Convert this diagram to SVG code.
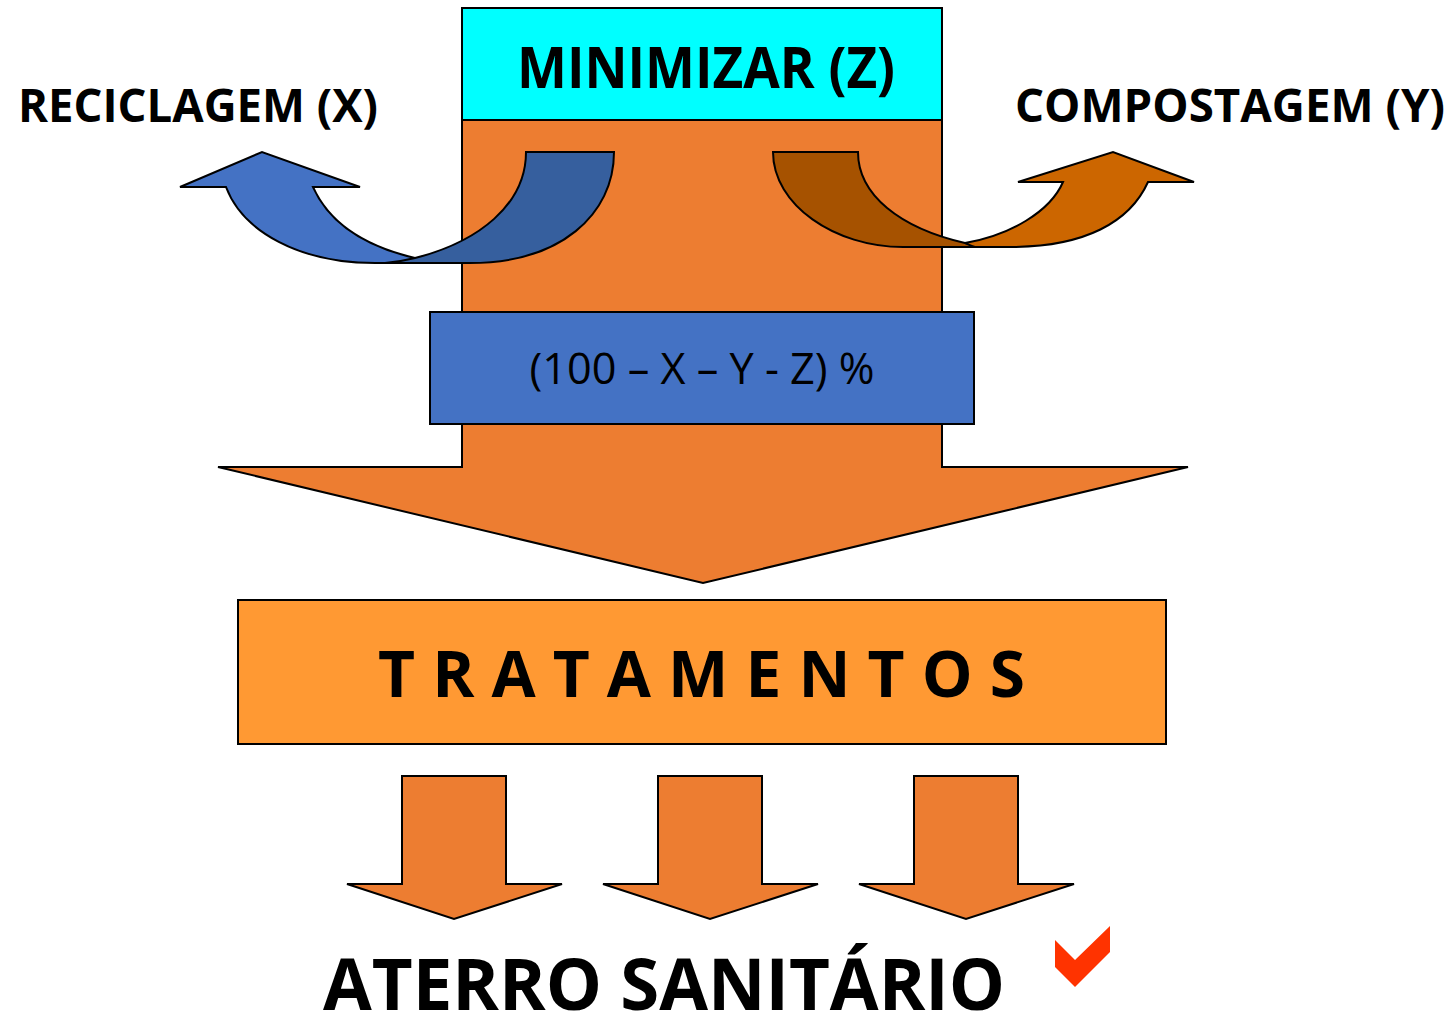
<svg xmlns="http://www.w3.org/2000/svg" width="1452" height="1017" viewBox="0 0 1452 1017">
<style>
.s{stroke:#000;stroke-width:2;stroke-linejoin:miter}
.t{font-family:"Open Sans","Liberation Sans",sans-serif;fill:#000}
.b{font-weight:bold}
</style>
<rect width="1452" height="1017" fill="#fff"/>
<g id="main-arrow">
<path class="s" fill="#ED7D31" d="M462,120 L942,120 L942,467 L1188,467 L703,583 L218,467 L462,467 Z"/>
</g>
<g id="minimizar">
<rect class="s" x="462" y="8" width="480" height="112" fill="#00FFFF"/>
<text class="t b" x="706" y="88" font-size="58" text-anchor="middle" textLength="378" lengthAdjust="spacingAndGlyphs">MINIMIZAR (Z)</text>
</g>
<g id="reciclagem">
<path class="s" fill="#4472C4" d="M226,187 L180,187 L262,152 L360,187 L313,187 C330,225 368,247 415,258 C428,261 440,263 445,263 L375,263 C300,263 243,232 226,187 Z"/>
<path class="s" fill="#365F9E" d="M526,152 L614,152 C614,215 560,263 470,263 L385,263 C398,262 407,260 415,258 C478,242 526,205 526,152 Z"/>
<text class="t b" x="18" y="122" font-size="46" textLength="360" lengthAdjust="spacingAndGlyphs">RECICLAGEM (X)</text>
</g>
<g id="compostagem">
<path class="s" fill="#A65200" d="M773,152 L858,152 C858,195 900,228 965,243 C975,245 985,247 995,247 L903,247 C835,247 773,205 773,152 Z"/>
<path class="s" fill="#CC6600" d="M1063,182 L1018,182 L1113,152 L1194,182 L1148,182 C1130,222 1085,247 1010,247 L975,247 C970,246 968,244 965,243 C1010,235 1050,212 1063,182 Z"/>
<text class="t b" x="1015" y="122" font-size="46" textLength="430" lengthAdjust="spacingAndGlyphs">COMPOSTAGEM (Y)</text>
</g>
<g id="resto">
<rect class="s" x="430" y="312" width="544" height="112" fill="#4472C4"/>
<text class="t" x="702" y="384" font-size="44" text-anchor="middle" textLength="345" lengthAdjust="spacingAndGlyphs">(100 – X – Y - Z) %</text>
</g>
<g id="tratamentos">
<rect class="s" x="238" y="600" width="928" height="144" fill="#FF9933"/>
<text class="t b" x="378" y="697" font-size="64" textLength="647" lengthAdjust="spacing">TRATAMENTOS</text>
</g>
<g id="connectors">
<path class="s" fill="#ED7D31" d="M402,776 L506,776 L506,884 L562,884 L454,919 L347,884 L402,884 Z"/>
<path class="s" fill="#ED7D31" d="M658,776 L762,776 L762,884 L818,884 L710,919 L603,884 L658,884 Z"/>
<path class="s" fill="#ED7D31" d="M914,776 L1018,776 L1018,884 L1074,884 L966,919 L859,884 L914,884 Z"/>
</g>
<g id="aterro">
<text class="t b" x="323" y="1010" font-size="71" textLength="682" lengthAdjust="spacingAndGlyphs">ATERRO SANITÁRIO</text>
<polygon fill="#FF3300" points="1055,940 1075,960 1110,926 1110,952 1075,987 1055,967"/>
</g>
</svg>
